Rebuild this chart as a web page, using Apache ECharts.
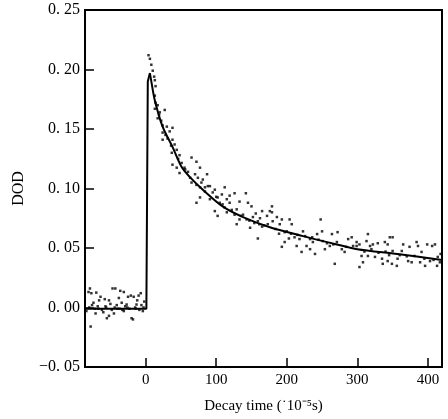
<!DOCTYPE html>
<html>
<head>
<meta charset="utf-8">
<script src="https://cdn.jsdelivr.net/npm/echarts@6/dist/echarts.min.js"></script>
<style>
  html, body { margin: 0; padding: 0; background: #fff; }
  #chart { width: 448px; height: 419px; }
</style>
</head>
<body>
<div id="chart"></div>
<script>
// tick labels
const xTicks = [0, 100, 200, 300, 400]
const yTicks = [-0.05, 0, 0.05, 0.10, 0.15, 0.20, 0.25]

// measured points before the flash (baseline)
const baselinePoints = [
  [-84, -0.003], [-81, 0.013], [-79, 0.016], [-78, -0.016], [-77, 0.012], [-76, 0.002],
  [-74, 0.004], [-72, -0.001], [-71, -0.005], [-70, 0.0125], [-68, 0.001], [-66, 0.006],
  [-64, 0.009], [-62, -0.002], [-60, -0.004], [-58, 0.007], [-56, 0.0], [-55, -0.009],
  [-52, 0.006], [-52, -0.007], [-50, 0.003], [-48, -0.002], [-47, 0.016], [-45, -0.005],
  [-43, 0.016], [-41, 0.002], [-40, -0.001], [-38, 0.008], [-36, 0.014], [-34, 0.004],
  [-33, -0.002], [-31, 0.013], [-31, -0.003], [-29, 0.001], [-27, 0.0025], [-25, 0.009],
  [-23, -0.001], [-21, 0.01], [-20, -0.009], [-18, -0.01], [-17, 0.009], [-15, 0.0],
  [-13, 0.0025], [-12, 0.006], [-10, 0.01], [-9, -0.002], [-7, 0.012], [-6, 0.002],
  [-4, -0.003], [-2, 0.005], [-80, 0.0], [-67, -0.001], [-57, 0.001], [-44, 0.0],
  [-37, -0.001], [-26, 0.0], [-14, -0.001], [-3, 0.0]
]

// measured points of the decay
const decayPoints = [
  [4, 0.212], [6, 0.209], [8, 0.204], [10, 0.199], [12, 0.194], [13, 0.191], [14, 0.186],
  [13, 0.178], [14, 0.172], [17, 0.170], [13, 0.167], [20, 0.164], [27, 0.166], [17, 0.159],
  [19, 0.162], [22, 0.157], [24, 0.153], [30, 0.152], [38, 0.151], [34, 0.148], [24, 0.147],
  [28, 0.145], [31, 0.142], [38, 0.141], [24, 0.141], [41, 0.137], [36, 0.136], [44, 0.1325],
  [37, 0.130], [48, 0.128], [46, 0.125], [65, 0.126], [72, 0.1225], [38, 0.120], [51, 0.1215],
  [44, 0.1175], [55, 0.1175], [77, 0.1175], [60, 0.114], [56, 0.116], [70, 0.112], [87, 0.112],
  [48, 0.113], [63, 0.109], [74, 0.109], [65, 0.105], [79, 0.105], [72, 0.103], [77, 0.101],
  [88, 0.102], [84, 0.0975], [95, 0.0967], [100, 0.093], [112, 0.101], [119, 0.094], [126, 0.096],
  [142, 0.096], [81, 0.1075], [91, 0.102], [98, 0.099], [84, 0.101], [77, 0.0925], [72, 0.088],
  [91, 0.091], [102, 0.0925], [108, 0.095], [115, 0.091], [119, 0.088], [109, 0.0867],
  [133, 0.089], [145, 0.088], [150, 0.085], [98, 0.081], [102, 0.077], [115, 0.080], [129, 0.0825],
  [138, 0.078], [133, 0.074], [143, 0.074], [152, 0.076], [159, 0.0725], [165, 0.081], [176, 0.081],
  [172, 0.077], [165, 0.068], [173, 0.070], [180, 0.0725], [159, 0.058], [129, 0.070],
  [105, 0.088], [112, 0.084], [122, 0.082], [126, 0.078], [135, 0.077], [147, 0.073],
  [154, 0.071], [161, 0.070], [168, 0.069], [156, 0.079], [162, 0.075], [148, 0.067],
  [179, 0.085], [179, 0.080], [186, 0.076], [190, 0.070], [193, 0.074], [204, 0.074],
  [207, 0.070], [197, 0.0633], [193, 0.051], [197, 0.055], [211, 0.059], [214, 0.0517],
  [223, 0.064], [228, 0.0517], [233, 0.0575], [233, 0.049], [248, 0.074], [243, 0.0617],
  [250, 0.064], [251, 0.0558], [254, 0.049], [264, 0.0617], [261, 0.0517], [271, 0.055],
  [272, 0.0633], [278, 0.049], [282, 0.0467], [287, 0.0575], [292, 0.059], [299, 0.055],
  [268, 0.0367], [294, 0.0517], [218, 0.0575], [237, 0.055], [221, 0.0467], [240, 0.045],
  [184, 0.066], [200, 0.064], [206, 0.062], [215, 0.061], [226, 0.060], [236, 0.059],
  [245, 0.057], [257, 0.054], [266, 0.053], [284, 0.051], [189, 0.062], [203, 0.058],
  [299, 0.0517], [303, 0.053], [315, 0.0617], [313, 0.0558], [318, 0.0517], [322, 0.053],
  [329, 0.054], [339, 0.055], [343, 0.053], [346, 0.059], [350, 0.059], [306, 0.0433],
  [303, 0.034], [308, 0.038], [315, 0.0433], [325, 0.0425], [335, 0.041], [336, 0.0367],
  [343, 0.039], [349, 0.0367], [356, 0.035], [357, 0.041], [363, 0.0475], [365, 0.053],
  [374, 0.051], [372, 0.039], [377, 0.038], [384, 0.055], [386, 0.0517], [391, 0.0467],
  [399, 0.053], [406, 0.0517], [410, 0.053], [389, 0.038], [396, 0.035], [403, 0.039],
  [413, 0.035], [414, 0.0425], [350, 0.0475], [381, 0.0433], [310, 0.047], [330, 0.046],
  [345, 0.044], [360, 0.044], [370, 0.043], [395, 0.041], [408, 0.040], [417, 0.038],
  [418, 0.045], [320, 0.049], [340, 0.047]
]

// fitted curve: flat baseline and the sharp rise
const riseX = [-86, 1, 3, 6]
const riseY = [-0.001, -0.001, 0.190, 0.197]

// fitted curve: the decay
const fitX = [6, 8, 13, 24, 38, 51, 62, 81, 109, 138, 176, 223, 271, 300, 357, 420]
const fitY = [0.197, 0.190, 0.174, 0.152, 0.135, 0.118, 0.110, 0.099,
  0.085, 0.076, 0.0675, 0.060, 0.053, 0.049, 0.045, 0.040]

const font = 'Liberation Serif, Times New Roman, serif'
const fmtY = v => {
  const s = Math.abs(v).toFixed(2).replace('.', '. ')
  return v < 0 ? '\u2212' + s : s
}

const chart = echarts.init(document.getElementById('chart'))

chart.setOption({
  animation: false,
  grid: {
    left: 85, right: 6, top: 10, bottom: 52,
    show: true, borderColor: '#000', borderWidth: 2
  },
  xAxis: {
    type: 'value',
    min: -86,
    max: 420,
    name: 'Decay time (\u02d910\u207b\u2075s)',
    nameLocation: 'middle',
    nameGap: 32,
    nameTextStyle: { fontFamily: font, fontSize: 15, color: '#000' },
    splitLine: { show: false },
    axisLine: { show: true, onZero: false, lineStyle: { color: '#000', width: 2 } },
    axisTick: { inside: true, length: 9, customValues: xTicks, lineStyle: { color: '#000', width: 1.5 } },
    axisLabel: { customValues: xTicks, fontFamily: font, fontSize: 15, color: '#000', margin: 6 }
  },
  yAxis: {
    type: 'value',
    min: -0.05,
    max: 0.25,
    name: 'DOD',
    nameLocation: 'middle',
    nameGap: 58,
    nameTextStyle: { fontFamily: font, fontSize: 16, color: '#000' },
    splitLine: { show: false },
    axisLine: { show: true, onZero: false, lineStyle: { color: '#000', width: 2 } },
    axisTick: { inside: true, length: 9, customValues: yTicks, lineStyle: { color: '#000', width: 1.5 } },
    axisLabel: { customValues: yTicks, formatter: fmtY, fontFamily: font, fontSize: 16, color: '#000', margin: 5 }
  },
  series: [
    {
      type: 'scatter',
      data: baselinePoints.concat(decayPoints),
      symbol: 'rect',
      symbolSize: 2.5,
      itemStyle: { color: '#000' }
    },
    {
      type: 'line',
      data: riseX.map((x, i) => [x, riseY[i]]),
      showSymbol: false,
      lineStyle: { color: '#000', width: 2 }
    },
    {
      type: 'line',
      data: fitX.map((x, i) => [x, fitY[i]]),
      showSymbol: false,
      smooth: 0.3,
      lineStyle: { color: '#000', width: 2 }
    }
  ]
})
</script>
</body>
</html>
